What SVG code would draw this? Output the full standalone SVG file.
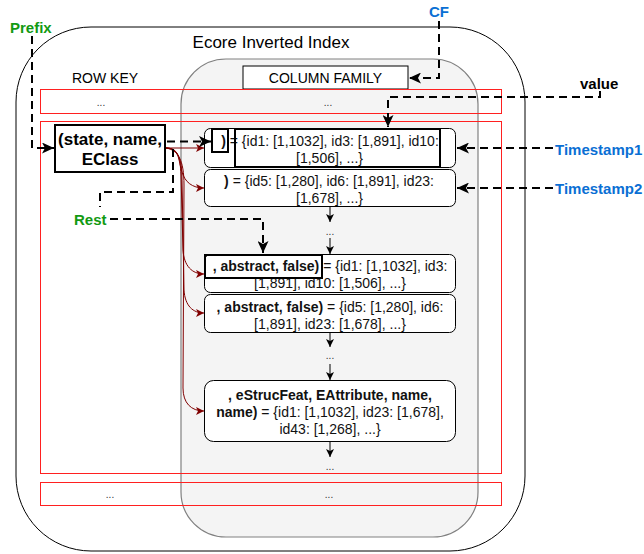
<svg xmlns="http://www.w3.org/2000/svg" width="644" height="554" viewBox="0 0 644 554">
  <defs>
    <marker id="headDash" markerUnits="userSpaceOnUse" markerWidth="13" markerHeight="11" refX="12" refY="5.5" orient="auto">
      <path d="M0,0 L12,5.5 L0,11 L3,5.5 Z" fill="#000"/>
    </marker>
    <marker id="headSmall" markerUnits="userSpaceOnUse" markerWidth="9" markerHeight="8" refX="8" refY="4" orient="auto">
      <path d="M0,0 L8,4 L0,8 L2,4 Z" fill="#000"/>
    </marker>
    <marker id="headRed" markerUnits="userSpaceOnUse" markerWidth="9" markerHeight="8" refX="8" refY="4" orient="auto">
      <path d="M0,0 L8,4 L0,8 L2,4 Z" fill="#800000"/>
    </marker>
  </defs>
  <style>
    text { font-family: "Liberation Sans", Arial, sans-serif; fill: #000; }
    .title { font-size: 17px; text-anchor: middle; }
    .head { font-size: 14px; text-anchor: middle; }
    .dots { font-size: 10px; text-anchor: middle; fill: #333; }
    .val { font-size: 14px; text-anchor: middle; fill: #111; }
    .b { font-weight: bold; }
    .key { font-size: 17px; font-weight: bold; text-anchor: middle; }
    .tag { font-size: 15px; font-weight: bold; }
    .green { fill: #129a12; }
    .blue { fill: #0a6fd4; }
    .row { fill: none; stroke: #ff2020; stroke-width: 1; }
    .cell { fill: #fff; stroke: #000; stroke-width: 1; }
    .frame { fill: none; stroke: #000; stroke-width: 2; }
    .dash { fill: none; stroke: #000; stroke-width: 2; stroke-dasharray: 8 5; marker-end: url(#headDash); }
    .dashplain { fill: none; stroke: #000; stroke-width: 2; stroke-dasharray: 8 5; }
    .flow { fill: none; stroke: #000; stroke-width: 1; marker-end: url(#headSmall); }
    .link { fill: none; stroke: #800000; stroke-width: 1; marker-end: url(#headRed); }
  </style>

  <!-- outer container -->
  <g id="index">
    <rect x="16" y="27" width="509" height="524" rx="75" ry="75" fill="#fff" stroke="#000" stroke-width="1"/>
    <text class="title" x="271" y="48">Ecore Inverted Index</text>
    <text class="head" x="105" y="83">ROW KEY</text>
  </g>

  <!-- column family area -->
  <g id="column-area">
    <rect x="181" y="59" width="297" height="478" rx="45" ry="45" fill="#f4f4f4" stroke="#808080" stroke-width="1.2"/>
  </g>

  <g id="column-family">
    <rect x="243" y="66" width="165" height="23" fill="#fff" stroke="#000" stroke-width="1"/>
    <text class="head" x="325.5" y="83">COLUMN FAMILY</text>
  </g>

  <!-- rows -->
  <g id="row-top">
    <rect class="row" x="40.5" y="89.5" width="461" height="24"/>
    <text class="dots" x="101" y="106">...</text>
    <text class="dots" x="328" y="106">...</text>
  </g>
  <g id="row-main">
    <rect class="row" x="40.5" y="121.5" width="461" height="352"/>
  </g>
  <g id="row-bottom">
    <rect class="row" x="40.5" y="482.5" width="461" height="23"/>
    <text class="dots" x="110" y="498">...</text>
    <text class="dots" x="329" y="498">...</text>
  </g>

  <!-- row key -->
  <g id="row-key">
    <rect x="55" y="125" width="110" height="47" fill="#fff" stroke="#000" stroke-width="2"/>
    <text class="key" x="110" y="145">(state, name,</text>
    <text class="key" x="110" y="165">EClass</text>
  </g>

  <!-- column cells -->
  <g id="cell-1">
    <rect class="cell" x="204.5" y="128.5" width="251" height="39" rx="6" ry="6"/>
    <text class="val" x="330" y="146"><tspan class="b">)</tspan> = {id1: [1,1032], id3: [1,891], id10:</text>
    <text class="val" x="329.5" y="163">[1,506], ...}</text>
    <rect class="frame" x="212" y="129" width="16" height="23"/>
    <rect class="frame" x="235" y="129" width="205" height="38"/>
  </g>
  <g id="cell-2">
    <rect class="cell" x="204.5" y="169.5" width="251" height="37" rx="6" ry="6"/>
    <text class="val" x="329" y="186"><tspan class="b">)</tspan> = {id5: [1,280], id6: [1,891], id23:</text>
    <text class="val" x="329.5" y="203">[1,678], ...}</text>
  </g>
  <g id="cell-3">
    <rect class="cell" x="204.5" y="254.5" width="251" height="38" rx="6" ry="6"/>
    <text class="val" x="330" y="271"><tspan class="b">, abstract, false)</tspan> = {id1: [1,1032], id3:</text>
    <text class="val" x="330" y="288">[1,891], id10: [1,506], ...}</text>
    <rect class="frame" x="205" y="255" width="117" height="23"/>
  </g>
  <g id="cell-4">
    <rect class="cell" x="204.5" y="294.5" width="251" height="38" rx="6" ry="6"/>
    <text class="val" x="330" y="312"><tspan class="b">, abstract, false)</tspan> = {id5: [1,280], id6:</text>
    <text class="val" x="330" y="329">[1,891], id23: [1,678], ...}</text>
  </g>
  <g id="cell-5">
    <rect class="cell" x="204.5" y="380.5" width="251" height="61" rx="9" ry="9"/>
    <text class="val b" x="330" y="400">, eStrucFeat, EAttribute, name,</text>
    <text class="val" x="330" y="417"><tspan class="b">name)</tspan> = {id1: [1,1032], id23: [1,678],</text>
    <text class="val" x="330" y="434">id43: [1,268], ...}</text>
  </g>

  <!-- labels -->
  <g id="label-prefix"><text class="tag green" x="10" y="33">Prefix</text></g>
  <g id="label-rest"><text class="tag green" x="74" y="225">Rest</text></g>
  <g id="label-cf"><text class="tag blue" x="429" y="17">CF</text></g>
  <g id="label-value"><text class="tag" x="580" y="89">value</text></g>
  <g id="label-ts1"><text class="tag blue" x="555" y="155">Timestamp1</text></g>
  <g id="label-ts2"><text class="tag blue" x="555" y="194">Timestamp2</text></g>

  <!-- connectors -->
  <g id="connectors">
    <!-- sequence of columns -->
    <path class="flow" d="M330,207 V222"/>
    <text class="dots" x="330" y="235">...</text>
    <path class="flow" d="M330,238 V254"/>
    <path class="flow" d="M330,333 V347"/>
    <text class="dots" x="330" y="359">...</text>
    <path class="flow" d="M330,364 V380"/>
    <path class="flow" d="M330,442 V457"/>
    <text class="dots" x="330" y="470">...</text>

    <!-- row key to column cells -->
    <path class="link" d="M166,148 H204"/>
    <path class="link" d="M166,148 C180,148 178,160 182,172 C185,182 192,188 204,188"/>
    <path class="link" d="M166,148 C178,148 180,156 181,175 L183,250 C184,266 192,274 204,274"/>
    <path class="link" d="M166,148 C178,149 182,158 182,180 L184,290 C185,306 193,313 204,313"/>
    <path class="link" d="M166,148 C178,150 184,160 184,185 L183,388 C183,403 191,411 204,411"/>

    <!-- annotation arrows -->
    <path class="dash" d="M32,36 V148 H54"/>
    <path class="dash" d="M167,141.5 H211"/>
    <path class="dashplain" d="M173,149 V192 H100 V207"/>
    <path class="dash" d="M110,219 H263 V253"/>
    <path class="dash" d="M439,21 V78 H409"/>
    <path class="dash" d="M600,91 V97 H388 V127"/>
    <path class="dash" d="M553,148 H457"/>
    <path class="dash" d="M553,188 H457"/>
  </g>
</svg>
